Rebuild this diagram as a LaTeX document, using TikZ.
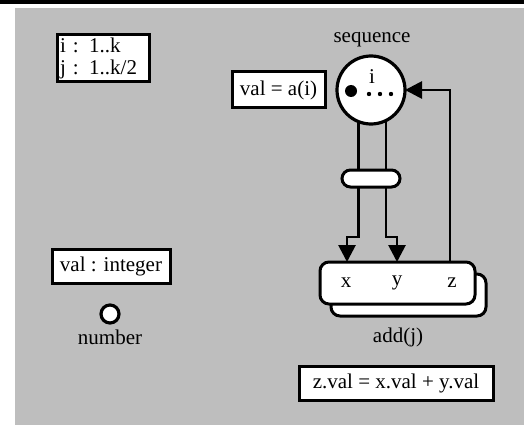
\documentclass[tikz,border=0pt]{standalone}
\usepackage{fontspec}
\setmainfont{Liberation Serif}
\usetikzlibrary{arrows.meta}
\definecolor{bg}{RGB}{190,190,190}
\begin{document}
\begin{tikzpicture}[x=1pt,y=-1pt,
  font=\fontsize{21}{22}\selectfont,
  box/.style={draw, line width=3pt, fill=white, inner sep=0pt, outer sep=0pt},
  rbox/.style={draw, line width=3pt, fill=white, inner sep=0pt, outer sep=0pt, rounded corners=9pt, minimum width=155pt, minimum height=42pt},
  ring/.style={draw, circle, line width=3.2pt, fill=white, inner sep=0pt, outer sep=0pt},
  lbl/.style={inner sep=0pt},
  conn/.style={line width=2.8pt},
  tip/.style={-{Triangle[length=17pt,width=17pt]}}]
\useasboundingbox (0,0) rectangle (524,425);
\fill[bg] (15,8) rectangle (524,425);
\draw[line width=4.5pt] (0,2) -- (524,2);

% left column
\node[box, text width=86pt, inner xsep=3pt, minimum height=47pt, align=left] (range) at (103,58.5) {i : 1..k\\ j : 1..k/2};
\node[box, minimum width=118pt, minimum height=34pt] (vi) at (111,266) {val : integer};
\node[ring, minimum size=18pt] (num) at (110,314) {};
\node[lbl] (numl) at (110,337) {number};

% sequence
\node[lbl] (seql) at (372,40) {sequence};
\node[box, minimum width=93pt, minimum height=36pt] (va) at (278.5,90) {val = a(i)};
\node[ring, minimum size=68pt] (seq) at (371,90) {};
\node[lbl] (idx) at (372,77) {i};
\fill (351,91) circle (6pt);
\fill (369,94) circle (2.2pt);
\fill (380,94) circle (2.2pt);
\fill (391,94) circle (2.2pt);

% add(j)
\node[rbox] (back) at (408.5,295) {};
\node[rbox] (front) at (397.5,283) {};
\node[lbl] (xl) at (346,283) {x};
\node[lbl] (yl) at (397,283) {y};
\node[lbl] (zl) at (452,283) {z};
\node[lbl] (addl) at (398,337) {add(j)};
\node[box, minimum width=194pt, minimum height=34pt] (zv) at (396,383) {z.val = x.val + y.val};

% connectors
\coordinate (jl) at (347,237);
\coordinate (jr) at (397,237);
\coordinate (zx) at (450,262);
\draw[conn,tip] (seq.-112) |- (jl) -- (jl |- front.north);
\draw[conn,tip] (seq.-64) |- (jr) -- (jr |- front.north);
\draw[conn,tip] (zx |- front.north) |- (seq.east);
\node[draw, line width=3pt, fill=white, rounded corners=8.5pt, minimum width=58pt, minimum height=17pt, inner sep=0pt] (pill) at (371,178.5) {};
\end{tikzpicture}
\end{document}
